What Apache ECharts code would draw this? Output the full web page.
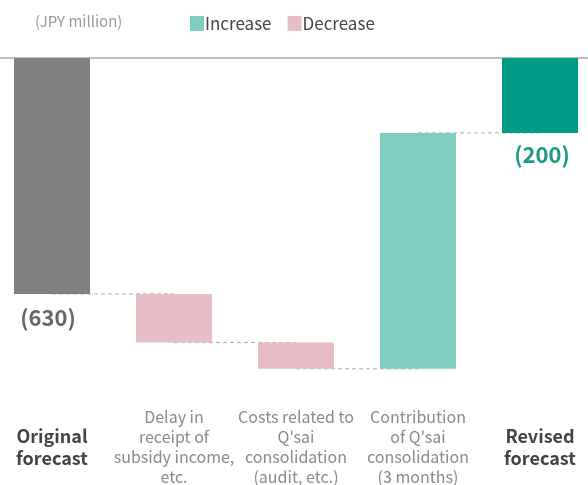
<!DOCTYPE html>
<html>
<head>
<meta charset="utf-8">
<script src="https://cdn.jsdelivr.net/npm/echarts@6/dist/echarts.min.js"></script>
<style>
  html, body { margin: 0; padding: 0; background: #fff; overflow: hidden; }
  #chart { position: absolute; left: -9px; top: 0; width: 610px; height: 485px; }
</style>
</head>
<body>
<div id="chart"></div>
<script>
// categories and changes (JPY million)
const categories = [
  "Original\nforecast",
  "Delay in\nreceipt of\nsubsidy income,\netc.",
  "Costs related to\nQ'sai\nconsolidation\n(audit, etc.)",
  "Contribution\nof Q'sai\nconsolidation\n(3 months)",
  "Revised\nforecast",
];
const amounts = [-630, -130, -70, 630, -200];
const isTotal = [true, false, false, false, true];

const barColors = ["#808080", "#e8bec6", "#e8bec6", "#7fcdc1", "#009b87"];

// running totals -> invisible base + visible part (all below zero here)
let running = 0;
const baseValues = [];
const barValues = [];
const levels = [];
amounts.forEach((a, i) => {
  if (isTotal[i]) {
    baseValues.push(0);
    barValues.push(a);
    running = a;
  } else {
    const next = running + a;
    const top = Math.max(running, next);
    const bottom = Math.min(running, next);
    baseValues.push(top);
    barValues.push(bottom - top);
    running = next;
  }
  levels.push(running);
});

// dashed connectors between neighbouring bars
const connectorSeries = [];
for (let i = 0; i < categories.length - 1; i++) {
  const d = categories.map(() => "-");
  d[i] = levels[i];
  d[i + 1] = levels[i];
  connectorSeries.push({
    type: "line",
    data: d,
    symbol: "none",
    silent: true,
    z: 1,
    lineStyle: { color: "#aaa", width: 1, type: [4, 3] },
  });
}

const chart = echarts.init(document.getElementById("chart"));
const font = "'Noto Sans CJK JP', 'Noto Sans', sans-serif";

chart.setOption({
  animation: false,
  textStyle: { fontFamily: font },
  title: {
    text: "(JPY million)",
    left: 39,
    top: 9,
    textStyle: { fontSize: 15, fontWeight: "normal", color: "#999", fontFamily: font },
  },
  legend: {
    left: 194,
    top: 10,
    itemWidth: 14,
    itemHeight: 15,
    itemGap: 16,
    textStyle: { fontSize: 17, color: "#444", padding: [0, 0, 0, -4] },
    data: [
      { name: "Increase", icon: "rect", itemStyle: { color: "#7fcdc1" } },
      { name: "Decrease", icon: "rect", itemStyle: { color: "#e8bec6" } },
    ],
  },
  grid: { left: 0, right: 0, top: 58, bottom: 85.5 },
  xAxis: [
    {
      type: "category",
      position: "top",
      data: categories,
      axisLine: { show: true, lineStyle: { color: "#aaa", width: 1.5 } },
      axisTick: { show: false },
      axisLabel: { show: false },
    },
    {
      type: "category",
      position: "bottom",
      data: categories,
      axisLine: { show: false },
      axisTick: { show: false },
      axisLabel: {
        interval: 0,
        margin: 52,
        verticalAlign: "middle",
        formatter: (v, i) => {
          const tag = isTotal[i] ? "b" : "n";
          return v.split("\n").map((s) => `{${tag}|${s}}`).join("\n");
        },
        rich: {
          b: { fontSize: 18, fontWeight: "bold", color: "#444", lineHeight: 22, fontFamily: font },
          n: { fontSize: 16, color: "#8a8a8a", lineHeight: 20, fontFamily: font },
        },
      },
    },
  ],
  yAxis: {
    type: "value",
    min: -900,
    max: 0,
    show: false,
  },
  series: [
    {
      name: "base",
      type: "bar",
      stack: "wf",
      barWidth: 76,
      silent: true,
      itemStyle: { color: "transparent" },
      data: baseValues,
      z: 2,
    },
    {
      name: "value",
      type: "bar",
      stack: "wf",
      barWidth: 76,
      z: 2,
      data: barValues.map((v, i) => ({
        value: v,
        itemStyle: { color: barColors[i] },
        label: {
          show: isTotal[i],
          position: "bottom",
          distance: i === 0 ? 13 : 11,
          offset: i === 0 ? [-4, 0] : [2, 0],
          formatter: () => `(${Math.abs(amounts[i])})`,
          fontSize: 22,
          fontWeight: "bold",
          color: i === 0 ? "#666" : "#1a9a85",
          fontFamily: font,
        },
      })),
    },
    { name: "Increase", type: "line", data: [] },
    { name: "Decrease", type: "line", data: [] },
    ...connectorSeries,
  ],
});
</script>
</body>
</html>
